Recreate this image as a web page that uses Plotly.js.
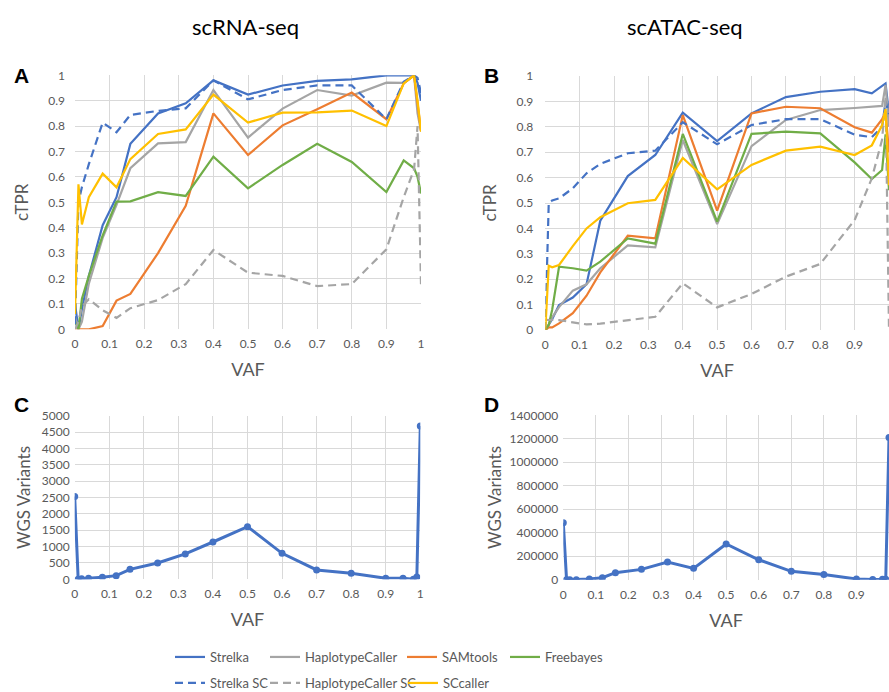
<!DOCTYPE html>
<html>
<head>
<meta charset="utf-8">
<script src="https://cdn.plot.ly/plotly-3.0.1.min.js"></script>
<style>html,body{margin:0;padding:0;background:#fff;}#chart{width:889px;height:692px;}</style>
</head>
<body>
<div id="chart"></div>
<script>
// ---- data ----
const vaf = [0, 0.01, 0.02, 0.04, 0.08, 0.12, 0.16, 0.24, 0.32, 0.4, 0.5, 0.6, 0.7, 0.8, 0.9, 0.95, 0.98, 0.99, 1];

// Panel A: scRNA-seq cTPR
const strelkaA   = [0.10, 0.00, 0.08, 0.21, 0.41, 0.52, 0.73, 0.85, 0.89, 0.98, 0.924, 0.96, 0.978, 0.984, 1.0, 1.0, 1.0, 0.97, 0.90];
const hapA       = [0.05, 0.00, 0.03, 0.18, 0.36, 0.49, 0.634, 0.732, 0.737, 0.942, 0.755, 0.869, 0.942, 0.92, 0.971, 0.97, 1.0, 0.85, 0.78];
const samA       = [0.00, 0.00, 0.00, 0.00, 0.013, 0.113, 0.139, 0.30, 0.486, 0.85, 0.686, 0.803, 0.866, 0.932, 0.827, 0.968, 1.0, 0.90, 0.78];
const freeA      = [0.03, 0.00, 0.12, 0.21, 0.37, 0.503, 0.504, 0.54, 0.525, 0.68, 0.555, 0.647, 0.73, 0.659, 0.54, 0.665, 0.634, 0.60, 0.535];
const strelkaSCA = [0.02, 0.50, 0.56, 0.65, 0.814, 0.776, 0.844, 0.86, 0.87, 0.98, 0.905, 0.942, 0.96, 0.96, 0.827, 0.975, 1.0, 0.99, 0.93];
const hapSCA     = [0.00, 0.03, 0.09, 0.118, 0.075, 0.045, 0.083, 0.115, 0.178, 0.312, 0.223, 0.21, 0.17, 0.178, 0.315, 0.52, 0.63, 0.80, 0.175];
const sccA       = [0.06, 0.571, 0.413, 0.52, 0.613, 0.559, 0.67, 0.769, 0.787, 0.924, 0.814, 0.853, 0.854, 0.861, 0.80, 0.968, 1.0, 0.90, 0.778];

// Panel B: scATAC-seq cTPR
const strelkaB   = [0.00, 0.02, 0.042, 0.098, 0.128, 0.18, 0.43, 0.606, 0.689, 0.856, 0.744, 0.853, 0.917, 0.938, 0.948, 0.932, 0.96, 0.971, 0.85];
const hapB       = [0.00, 0.02, 0.05, 0.09, 0.155, 0.18, 0.243, 0.333, 0.325, 0.748, 0.417, 0.724, 0.827, 0.866, 0.874, 0.879, 0.882, 0.965, 0.80];
const samB       = [0.00, 0.01, 0.01, 0.026, 0.066, 0.135, 0.227, 0.371, 0.361, 0.846, 0.47, 0.853, 0.879, 0.873, 0.798, 0.777, 0.83, 0.86, 0.70];
const freeB      = [0.00, 0.02, 0.08, 0.249, 0.243, 0.234, 0.269, 0.361, 0.34, 0.772, 0.427, 0.772, 0.781, 0.774, 0.66, 0.594, 0.63, 0.77, 0.55];
const strelkaSCB = [0.00, 0.50, 0.51, 0.518, 0.558, 0.617, 0.654, 0.696, 0.706, 0.818, 0.731, 0.807, 0.83, 0.83, 0.769, 0.759, 0.80, 0.90, 0.85];
const hapSCB     = [0.04, 0.04, 0.04, 0.039, 0.03, 0.022, 0.025, 0.039, 0.052, 0.184, 0.089, 0.142, 0.21, 0.26, 0.433, 0.597, 0.75, 0.92, 0.00];
const sccB       = [0.00, 0.253, 0.247, 0.256, 0.33, 0.40, 0.444, 0.499, 0.512, 0.677, 0.554, 0.65, 0.706, 0.722, 0.689, 0.727, 0.807, 0.87, 0.57];

// Panels C, D: WGS variants
const wgsC = [2530, 5, 20, 30, 61, 112, 305, 499, 774, 1140, 1609, 794, 285, 183, 30, 30, 5, 71, 4684];
const wgsD = [486000, 0, 0, 0, 5000, 17000, 60000, 88000, 150000, 96600, 304000, 170000, 71000, 45000, 5700, 1000, 3000, 3000, 1210000];

const seriesNames  = ['Strelka', 'HaplotypeCaller', 'SAMtools', 'Freebayes', 'Strelka SC', 'HaplotypeCaller SC', 'SCcaller'];
const seriesColors = ['#4472C4', '#A5A5A5', '#ED7D31', '#70AD47', '#4472C4', '#A5A5A5', '#FFC000'];
const seriesDash   = ['solid', 'solid', 'solid', 'solid', '8px,5px', '8px,5px', 'solid'];
const panelA = [strelkaA, hapA, samA, freeA, strelkaSCA, hapSCA, sccA];
const panelB = [strelkaB, hapB, samB, freeB, strelkaSCB, hapSCB, sccB];

// ---- build ----
const FONT = 'Lato, "Open Sans", sans-serif';
const GREY = '#595959';
const legendIds = ['legend', 'legend2', 'legend3', 'legend4', 'legend5', 'legend6', 'legend7'];
const legendPos = [[176, 657], [271, 657], [408, 657], [511, 657], [176, 683], [271, 683], [409, 683]];

const traces = [];
panelA.forEach((ys, i) => traces.push({
  x: vaf, y: ys, xaxis: 'x', yaxis: 'y', type: 'scatter', mode: 'lines', name: seriesNames[i],
  line: {color: seriesColors[i], width: 2.2, dash: seriesDash[i]},
  legend: legendIds[i], showlegend: true, hoverinfo: 'x+y+name'
}));
panelB.forEach((ys, i) => traces.push({
  x: vaf, y: ys, xaxis: 'x2', yaxis: 'y2', type: 'scatter', mode: 'lines', name: seriesNames[i],
  line: {color: seriesColors[i], width: 2.2, dash: seriesDash[i]},
  showlegend: false
}));
traces.push({x: vaf, y: wgsC, xaxis: 'x3', yaxis: 'y3', type: 'scatter', mode: 'lines+markers',
  name: 'WGS Variants', line: {color: '#4472C4', width: 3}, marker: {color: '#4472C4', size: 7}, showlegend: false});
traces.push({x: vaf, y: wgsD, xaxis: 'x4', yaxis: 'y4', type: 'scatter', mode: 'lines+markers',
  name: 'WGS Variants', line: {color: '#4472C4', width: 3}, marker: {color: '#4472C4', size: 7}, showlegend: false});

const W = 889, H = 692;
const px = v => v / W;
const py = v => (H - v) / H;

function xax(l, r, anchor, title, standoff) {
  return {domain: [px(l), Math.min(1, px(r))], anchor: anchor, range: [0, 1], tick0: 0, dtick: 0.1,
    showgrid: true, gridcolor: '#d9d9d9', gridwidth: 1, zeroline: false, showline: false, ticks: '',
    ticklabelstandoff: 6, tickfont: {family: FONT, size: 12, color: GREY}, fixedrange: true,
    title: {text: title, font: {family: FONT, size: 18, color: GREY}, standoff: standoff}};
}
function yax(top, bottom, anchor, range, dtick, title, lblStandoff, titleStandoff, fmt) {
  return {domain: [py(bottom), py(top)], anchor: anchor, range: range, tick0: 0, dtick: dtick,
    showgrid: true, gridcolor: '#d9d9d9', gridwidth: 1, zeroline: false, showline: false, ticks: '',
    ticklabelstandoff: lblStandoff, tickformat: fmt, tickfont: {family: FONT, size: 12, color: GREY}, fixedrange: true,
    title: {text: title, font: {family: FONT, size: 17, color: GREY}, standoff: titleStandoff}};
}

const layout = {
  width: W, height: H, margin: {l: 0, r: 0, t: 0, b: 0, autoexpand: false},
  paper_bgcolor: '#fff', plot_bgcolor: '#fff', font: {family: FONT, color: GREY},
  xaxis:  xax(75, 421, 'y', 'VAF', 13),
  yaxis:  yax(75.3, 329.3, 'x', [0, 1], 0.1, 'cTPR', 9, 15, ''),
  xaxis2: xax(545.3, 889.3, 'y2', 'VAF', 13),
  yaxis2: yax(76, 330, 'x2', [0, 1], 0.1, 'cTPR', 11, 15, ''),
  xaxis3: xax(74.7, 420.3, 'y3', 'VAF', 13),
  yaxis3: yax(415.7, 579.3, 'x3', [0, 5000], 500, 'WGS Variants', 4, 6, 'd'),
  xaxis4: xax(563.3, 890, 'y4', 'VAF', 13),
  yaxis4: yax(415.3, 579.7, 'x4', [0, 1400000], 200000, 'WGS Variants', 4, 3, 'd'),
  annotations: [
    {text: 'scRNA-seq', x: px(245), y: py(26), xref: 'paper', yref: 'paper', showarrow: false, xanchor: 'center', yanchor: 'middle', font: {family: FONT, size: 22, color: '#000'}},
    {text: 'scATAC-seq', x: px(685), y: py(26), xref: 'paper', yref: 'paper', showarrow: false, xanchor: 'center', yanchor: 'middle', font: {family: FONT, size: 22, color: '#000'}},
    {text: '<b>A</b>', x: px(21), y: py(75), xref: 'paper', yref: 'paper', showarrow: false, xanchor: 'center', yanchor: 'middle', font: {family: 'Liberation Sans, Arial, sans-serif', size: 21, color: '#000'}},
    {text: '<b>B</b>', x: px(491), y: py(75), xref: 'paper', yref: 'paper', showarrow: false, xanchor: 'center', yanchor: 'middle', font: {family: 'Liberation Sans, Arial, sans-serif', size: 21, color: '#000'}},
    {text: '<b>C</b>', x: px(21), y: py(405), xref: 'paper', yref: 'paper', showarrow: false, xanchor: 'center', yanchor: 'middle', font: {family: 'Liberation Sans, Arial, sans-serif', size: 21, color: '#000'}},
    {text: '<b>D</b>', x: px(491), y: py(405), xref: 'paper', yref: 'paper', showarrow: false, xanchor: 'center', yanchor: 'middle', font: {family: 'Liberation Sans, Arial, sans-serif', size: 21, color: '#000'}}
  ]
};
legendIds.forEach((id, i) => {
  layout[id] = {x: px(legendPos[i][0] - 6), y: py(legendPos[i][1]), xanchor: 'left', yanchor: 'middle',
    bgcolor: 'rgba(0,0,0,0)', borderwidth: 0, itemwidth: 30, font: {family: FONT, size: 13, color: GREY}};
});

Plotly.newPlot('chart', traces, layout, {displayModeBar: false, staticPlot: true});
</script>
</body>
</html>
